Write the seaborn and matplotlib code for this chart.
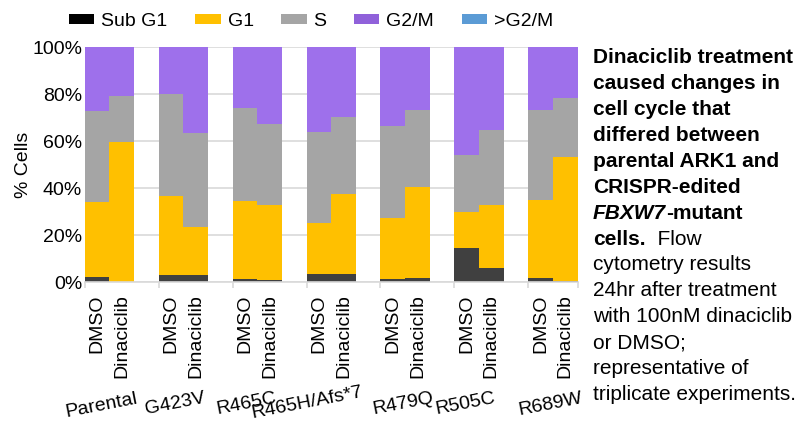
import pandas as pd
import matplotlib
matplotlib.use("Agg")
import matplotlib.pyplot as plt
import matplotlib.transforms as mtransforms
from matplotlib.patches import Patch
from matplotlib.ticker import FixedLocator, PercentFormatter
import seaborn as sns

# Cell lines and treatments
cell_lines = ["Parental", "G423V", "R465C", "R465H/Afs*7", "R479Q", "R505C", "R689W"]
treatments = ["DMSO", "Dinaciclib"]
phases = ["Sub G1", "G1", "S", "G2/M", ">G2/M"]

# % cells per phase, one value per bar (DMSO, Dinaciclib for each line)
sub_g1 = [2.1, 0.0, 2.8, 2.8, 1.1, 1.0, 3.3, 3.3, 1.1, 1.8, 14.6, 5.8, 1.8, 0.6]
g1 = [31.8, 59.7, 33.8, 20.7, 33.4, 31.9, 21.9, 34.3, 26.1, 38.8, 15.1, 27.0, 33.1, 52.5]
s_phase = [38.9, 19.3, 43.4, 39.8, 39.8, 34.6, 38.6, 32.6, 39.3, 32.6, 24.3, 32.0, 38.3, 25.3]
g2m = [27.2, 21.0, 20.0, 36.7, 25.7, 32.5, 36.2, 29.8, 33.5, 26.8, 46.0, 35.2, 26.8, 21.6]
above_g2m = [0.0] * 14

colors = ["#404040", "#FFC000", "#A5A5A5", "#9E70EB", "#5B9BD5"]
legend_colors = ["#000000", "#FFC000", "#A5A5A5", "#9061DA", "#5B9BD5"]

plt.rcParams["font.family"] = ["Liberation Sans", "DejaVu Sans"]

# Build the table, one row per bar, with cumulative sums for stacking
slots = [f"{c}|{t}" for c in cell_lines for t in treatments]
df = pd.DataFrame({"slot": slots, "Sub G1": sub_g1, "G1": g1, "S": s_phase,
                   "G2/M": g2m, ">G2/M": above_g2m})
cum = df[phases].cumsum(axis=1)
cum["slot"] = df["slot"]

# Category order with an empty slot between cell lines
order = []
for i, c in enumerate(cell_lines):
    order += [f"{c}|DMSO", f"{c}|Dinaciclib"]
    if i < len(cell_lines) - 1:
        order.append(f"gap{i}")

fig = plt.figure(figsize=(8, 4.21), dpi=100)
ax = fig.add_axes([0.106, 0.33, 0.616, 0.558])

# Stacked bars: draw the tallest cumulative layer first
for phase, col in reversed(list(zip(phases, colors))):
    sns.barplot(data=cum, x="slot", y=phase, order=order, color=col,
                saturation=1, width=1, errorbar=None, ax=ax)

ax.set_xlim(-0.5, len(order) - 0.5)
ax.set_ylim(0, 100)
ax.yaxis.set_major_locator(FixedLocator([0, 20, 40, 60, 80, 100]))
ax.yaxis.set_major_formatter(PercentFormatter(decimals=0))
ax.grid(axis="y", color="#D9D9D9", linewidth=1.2)
ax.set_axisbelow(True)
for side in ["top", "right", "left"]:
    ax.spines[side].set_visible(False)
ax.spines["bottom"].set_color("#D9D9D9")
ax.spines["bottom"].set_linewidth(1.2)
ax.tick_params(axis="y", length=0, pad=2, labelsize=14)

# Treatment labels under each bar
ax.set_xticks(range(len(order)))
ax.set_xticklabels([o.split("|")[1] if "|" in o else "" for o in order],
                   rotation=90, fontsize=14)
ax.tick_params(axis="x", which="major", length=0, pad=9)
group_edges = [3 * i - 0.5 for i in range(len(cell_lines))] + [len(order) - 0.5]
ax.set_xticks(group_edges, minor=True)
ax.tick_params(axis="x", which="minor", length=4, color="#D9D9D9", width=1.2)

ax.set_xlabel("")
ax.set_ylabel("% Cells", fontsize=14)
ax.yaxis.set_label_coords(-0.108, 0.5)

# Cell line names, slanted, right end near the second bar of each group
trans = mtransforms.blended_transform_factory(ax.transData, fig.transFigure)
nudge = [0.06, -0.2, -0.28, 0.2, 0.08, -0.4, 0.12]
for i, c in enumerate(cell_lines):
    y_px = 384 if c == "R465H/Afs*7" else 390
    ax.text(3 * i + 1.5 + nudge[i], 1 - y_px / 421, c, transform=trans, rotation=11,
            rotation_mode="anchor", ha="right", va="top", fontsize=14)

# Legend
handles = [Patch(facecolor=c) for c in legend_colors]
fig.legend(handles, phases, ncol=5, loc="center", bbox_to_anchor=(0.389, 0.949),
           frameon=False, fontsize=14, handlelength=1.3, handleheight=0.45,
           handletextpad=0.36, columnspacing=1.42)

# Caption on the right, mixed bold / italic / regular
caption = [
    [("Dinaciclib treatment", "bold", "normal")],
    [("caused changes in", "bold", "normal")],
    [("cell cycle that", "bold", "normal")],
    [("differed between", "bold", "normal")],
    [("parental ARK1 and", "bold", "normal")],
    [("CRISPR-edited", "bold", "normal")],
    [("FBXW7", "bold", "italic"), ("-mutant", "bold", "normal")],
    [("cells.", "bold", "normal"), ("  Flow", "normal", "normal")],
    [("cytometry results", "normal", "normal")],
    [("24hr after treatment", "normal", "normal")],
    [("with 100nM dinaciclib", "normal", "normal")],
    [("or DMSO;", "normal", "normal")],
    [("representative of", "normal", "normal")],
    [("triplicate experiments.", "normal", "normal")],
]
renderer = fig.canvas.get_renderer()
for k, parts in enumerate(caption):
    x = 593 / 800
    y = 1 - (63.3 + 25.9 * k) / 421
    for txt, weight, style in parts:
        t = fig.text(x, y, txt, fontsize=15, fontweight=weight, fontstyle=style,
                     ha="left", va="baseline")
        x += t.get_window_extent(renderer).width / fig.bbox.width

fig.savefig("out.png", dpi=100)
